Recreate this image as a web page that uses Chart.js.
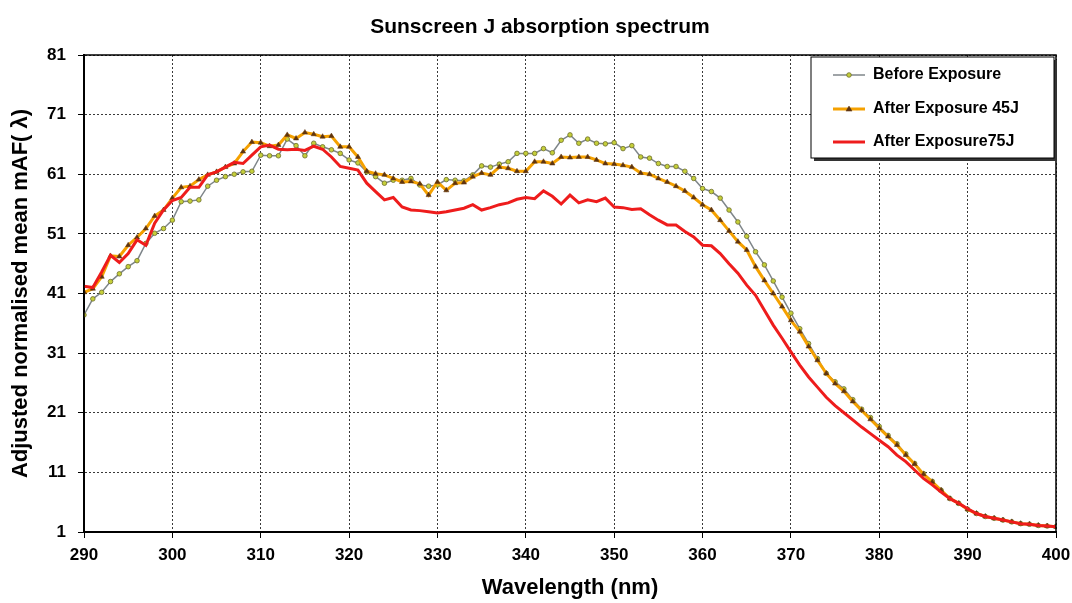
<!DOCTYPE html>
<html>
<head>
<meta charset="utf-8">
<script src="https://cdn.jsdelivr.net/npm/chart.js@4.4.1/dist/chart.umd.min.js"></script>
<style>
  html, body { margin: 0; padding: 0; background: #fff; }
  #chart { display: block; }
</style>
</head>
<body>
<canvas id="chart" width="1072" height="603"></canvas>
<script>
// Sunscreen J absorption spectrum

const wavelengths = [
  290, 291, 292, 293, 294, 295, 296, 297, 298, 299,
  300, 301, 302, 303, 304, 305, 306, 307, 308, 309,
  310, 311, 312, 313, 314, 315, 316, 317, 318, 319,
  320, 321, 322, 323, 324, 325, 326, 327, 328, 329,
  330, 331, 332, 333, 334, 335, 336, 337, 338, 339,
  340, 341, 342, 343, 344, 345, 346, 347, 348, 349,
  350, 351, 352, 353, 354, 355, 356, 357, 358, 359,
  360, 361, 362, 363, 364, 365, 366, 367, 368, 369,
  370, 371, 372, 373, 374, 375, 376, 377, 378, 379,
  380, 381, 382, 383, 384, 385, 386, 387, 388, 389,
  390, 391, 392, 393, 394, 395, 396, 397, 398, 399,
  400
];

const beforeExposure = [
  37.4, 40.1, 41.2, 43.0, 44.3, 45.5, 46.5, 49.4, 51.1, 51.9,
  53.3, 56.4, 56.5, 56.7, 59.0, 60.0, 60.6, 61.0, 61.4, 61.5,
  64.2, 64.1, 64.1, 66.9, 65.8, 64.1, 66.2, 65.6, 65.1, 64.5,
  63.4, 62.9, 61.4, 60.6, 59.5, 60.0, 60.0, 60.3, 59.2, 59.0,
  59.2, 60.1, 60.0, 59.9, 60.9, 62.4, 62.2, 62.7, 63.1, 64.5,
  64.5, 64.5, 65.3, 64.6, 66.7, 67.6, 66.2, 66.9, 66.2, 66.1,
  66.3, 65.3, 65.8, 63.9, 63.7, 62.8, 62.3, 62.3, 61.5, 60.3,
  58.6, 58.1, 57.0, 55.0, 53.0, 50.6, 48.0, 45.8, 43.1, 40.4,
  37.7, 35.1, 32.6, 30.1, 27.6, 26.2, 25.0, 23.2, 21.6, 20.2,
  18.7, 17.2, 15.8, 14.1, 12.5, 10.8, 9.5, 8.0, 6.6, 5.8,
  4.8, 4.1, 3.6, 3.3, 3.0, 2.7, 2.4, 2.3, 2.1, 2.0,
  1.9
];

const afterExposure45 = [
  41.2, 41.8, 43.8, 47.3, 47.2, 49.1, 50.4, 51.9, 54.0, 55.0,
  57.0, 58.8, 59.0, 60.1, 60.9, 61.4, 62.2, 62.8, 64.8, 66.4,
  66.3, 65.7, 65.9, 67.6, 67.0, 68.0, 67.7, 67.3, 67.4, 65.6,
  65.6, 63.9, 61.5, 61.1, 60.9, 60.3, 59.7, 59.8, 59.4, 57.5,
  59.7, 58.3, 59.5, 59.6, 60.6, 61.2, 60.9, 62.2, 62.0, 61.5,
  61.5, 63.1, 63.1, 62.8, 63.9, 63.8, 63.9, 63.9, 63.4, 62.8,
  62.7, 62.5, 62.2, 61.2, 61.0, 60.3, 59.7, 59.0, 58.2, 57.1,
  55.9, 55.0, 53.3, 51.5, 49.7, 48.3, 45.5, 43.2, 41.0, 38.8,
  36.5, 34.6, 32.1, 29.8, 27.6, 25.9, 24.6, 22.9, 21.4, 19.9,
  18.4, 17.0, 15.6, 13.9, 12.4, 10.7, 9.4, 8.0, 6.6, 5.8,
  4.8, 4.1, 3.6, 3.3, 3.0, 2.7, 2.4, 2.3, 2.1, 2.0,
  1.9
];

const afterExposure75 = [
  42.2, 42.0, 44.6, 47.4, 46.2, 47.7, 50.0, 49.1, 52.8, 55.0,
  56.6, 57.1, 58.8, 58.8, 60.9, 61.4, 62.2, 63.0, 62.8, 64.2,
  65.6, 65.9, 65.2, 65.1, 65.2, 65.0, 65.7, 65.2, 63.9, 62.3,
  62.0, 61.7, 59.5, 58.1, 56.7, 57.1, 55.5, 55.0, 54.9, 54.7,
  54.5, 54.7, 55.0, 55.3, 55.9, 55.0, 55.4, 55.9, 56.2, 56.8,
  57.1, 56.9, 58.2, 57.3, 56.0, 57.5, 56.2, 56.7, 56.4, 57.0,
  55.5, 55.4, 55.1, 55.2, 54.2, 53.3, 52.5, 52.5, 51.4, 50.5,
  49.1, 49.0, 47.7, 46.0, 44.4, 42.4, 40.7, 38.2, 35.7, 33.5,
  31.2, 29.0, 27.0, 25.3, 23.6, 22.2, 21.0, 19.8, 18.6, 17.5,
  16.4, 15.3, 13.9, 12.8, 11.4, 10.0, 8.9, 7.7, 6.6, 5.8,
  4.9, 4.1, 3.6, 3.3, 3.0, 2.7, 2.4, 2.3, 2.1, 2.0,
  1.9
];

const seriesNames = ['Before Exposure', 'After Exposure 45J', 'After Exposure75J'];
const xTicks = [290, 300, 310, 320, 330, 340, 350, 360, 370, 380, 390, 400];
const yTicks = [1, 11, 21, 31, 41, 51, 61, 71, 81];

const FONT = '"Liberation Sans", Arial, sans-serif';

function toPoints(values) {
    return values.map((v, i) => ({ x: wavelengths[i], y: v }));
}

// Title, frame and boxed legend drawn on the canvas
const decorPlugin = {
    id: 'decor',
    afterDraw(chart) {
        const ctx = chart.ctx;
        const area = chart.chartArea;
        ctx.save();

        // frame round the plot
        ctx.strokeStyle = '#000';
        ctx.lineWidth = 1.5;
        ctx.strokeRect(area.left, area.top, area.right - area.left, area.bottom - area.top);

        // title
        ctx.fillStyle = '#000';
        ctx.font = 'bold 21px ' + FONT;
        ctx.textAlign = 'center';
        ctx.textBaseline = 'middle';
        ctx.fillText('Sunscreen J absorption spectrum', 540, 27);

        // legend box
        const bx = 811, by = 57, bw = 243, bh = 101;
        ctx.fillStyle = '#333';
        ctx.fillRect(bx + 3, by + 3, bw, bh);
        ctx.fillStyle = '#fff';
        ctx.fillRect(bx, by, bw, bh);
        ctx.strokeStyle = '#000';
        ctx.lineWidth = 1;
        ctx.strokeRect(bx, by, bw, bh);

        const rows = [75, 109, 142];
        chart.data.datasets.forEach((ds, i) => {
            const y = rows[i];
            ctx.strokeStyle = ds.borderColor;
            ctx.lineWidth = ds.borderWidth;
            ctx.beginPath();
            ctx.moveTo(833, y);
            ctx.lineTo(865, y);
            ctx.stroke();
            if (ds.pointRadius > 0) {
                ctx.fillStyle = ds.pointBackgroundColor;
                ctx.strokeStyle = ds.pointBorderColor;
                ctx.lineWidth = ds.pointBorderWidth;
                ctx.beginPath();
                if (ds.pointStyle === 'triangle') {
                    const r = ds.pointRadius;
                    ctx.moveTo(849, y - r);
                    ctx.lineTo(849 + r, y + r * 0.7);
                    ctx.lineTo(849 - r, y + r * 0.7);
                    ctx.closePath();
                } else {
                    ctx.arc(849, y, ds.pointRadius, 0, Math.PI * 2);
                }
                ctx.fill();
                ctx.stroke();
            }
            ctx.fillStyle = '#000';
            ctx.font = 'bold 16px ' + FONT;
            ctx.textAlign = 'left';
            ctx.textBaseline = 'middle';
            ctx.fillText(ds.label, 873, y);
        });
        ctx.restore();
    }
};

const gridOpts = {
    color: '#3a3a3a',
    lineWidth: 1,
    tickColor: '#000',
    tickLength: 6,
    tickBorderDash: []
};

new Chart(document.getElementById('chart'), {
    type: 'line',
    data: {
        datasets: [
            {
                label: seriesNames[0],
                data: toPoints(beforeExposure),
                borderColor: '#7f868a',
                borderWidth: 1.5,
                pointStyle: 'circle',
                pointRadius: 2.3,
                pointBackgroundColor: '#c5cf3a',
                pointBorderColor: '#6d6d2c',
                pointBorderWidth: 0.8,
                order: 3
            },
            {
                label: seriesNames[1],
                data: toPoints(afterExposure45),
                borderColor: '#f5a100',
                borderWidth: 3,
                pointStyle: 'triangle',
                pointRadius: 3,
                pointBackgroundColor: '#5e3410',
                pointBorderColor: '#5e3410',
                pointBorderWidth: 0.5,
                order: 2
            },
            {
                label: seriesNames[2],
                data: toPoints(afterExposure75),
                borderColor: '#ee1c1c',
                borderWidth: 3,
                pointRadius: 0,
                order: 1
            }
        ]
    },
    options: {
        responsive: false,
        animation: false,
        layout: { padding: { top: 55, right: 16, left: 0, bottom: 0 } },
        plugins: {
            legend: { display: false },
            title: { display: false },
            tooltip: { enabled: false }
        },
        elements: { line: { tension: 0 } },
        scales: {
            x: {
                type: 'linear',
                min: 290,
                max: 400,
                afterBuildTicks: s => { s.ticks = xTicks.map(v => ({ value: v })); },
                afterFit: s => { s.height = 71; s.paddingLeft = 0; s.paddingRight = 0; },
                grid: gridOpts,
                border: { color: '#000', width: 2, dash: [2, 2] },
                ticks: {
                    color: '#000',
                    padding: 7,
                    font: { family: FONT, size: 17, weight: 'bold' }
                },
                title: {
                    display: true,
                    text: 'Wavelength (nm)',
                    color: '#000',
                    padding: { top: 0, bottom: 2 },
                    font: { family: FONT, size: 22, weight: 'bold' }
                }
            },
            y: {
                type: 'linear',
                min: 1,
                max: 81,
                afterBuildTicks: s => { s.ticks = yTicks.map(v => ({ value: v })); },
                afterFit: s => { s.width = 84; s.paddingTop = 0; s.paddingBottom = 0; },
                grid: gridOpts,
                border: { color: '#000', width: 2, dash: [2, 2] },
                ticks: {
                    color: '#000',
                    padding: 12,
                    font: { family: FONT, size: 17, weight: 'bold' }
                },
                title: {
                    display: true,
                    text: 'Adjusted normalised mean mAF( \u03bb)',
                    color: '#000',
                    padding: { top: 8, bottom: 0 },
                    font: { family: FONT, size: 22, weight: 'bold' }
                }
            }
        }
    },
    plugins: [decorPlugin]
});
</script>
</body>
</html>
